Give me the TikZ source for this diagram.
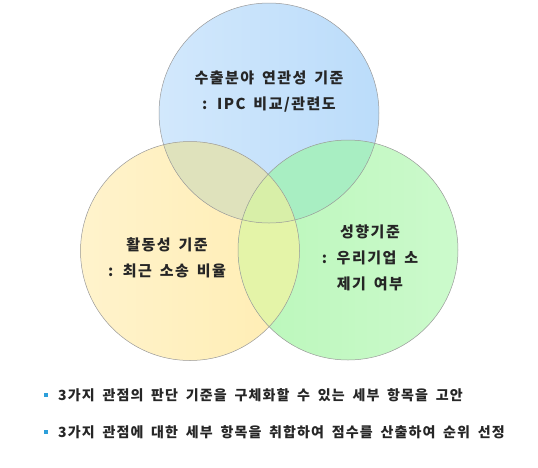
\documentclass[tikz,border=0pt]{standalone}
\usepackage{fontspec}
\setmainfont{Noto Sans CJK KR}
\newfontfamily\lblfont[LetterSpace=10,WordSpace=1.6]{Noto Sans CJK KR}
\newfontfamily\bulfont[LetterSpace=8,WordSpace=1.8]{Noto Sans CJK KR}
\begin{document}
\begin{tikzpicture}[x=1pt,y=-1pt,
  outl/.style={draw=black!40, line width=0.5pt},
  lbl/.style={align=center, font=\lblfont\fontsize{15}{26}\selectfont\bfseries, text=black!85, inner sep=0pt},
  bul/.style={anchor=west, font=\bulfont\fontsize{14}{15}\selectfont\bfseries, text=black!85, inner sep=0pt},
  sq/.style={minimum size=4.5pt, inner sep=0pt}]
\useasboundingbox (0,0) rectangle (538,467);
\definecolor{cblue}{HTML}{BBDCFA}
\definecolor{cblueL}{HTML}{D2E8FC}
\definecolor{cyel}{HTML}{FFEDB2}
\definecolor{cyelL}{HTML}{FFF3CC}
\definecolor{cgrn}{HTML}{BAF7BA}
\definecolor{cgrnL}{HTML}{CCFACC}
\definecolor{cab}{HTML}{DFE2BC}
\definecolor{cac}{HTML}{A8EEC2}
\definecolor{cbc}{HTML}{E4F4A8}
\definecolor{cabc}{HTML}{D8EFA8}
\definecolor{bsq}{HTML}{2C9FDA}
\def\ctop{(269,113) circle (110)}
\def\cleft{(190,251) circle (109.5)}
\def\cright{(348,250) circle (110)}
% base fills
\shade[left color=cblueL, right color=cblue] \ctop;
\shade[left color=cyelL, right color=cyel] \cleft;
\shade[left color=cgrn, right color=cgrnL] \cright;
% pairwise overlaps
\begin{scope}\clip \ctop; \fill[cab] \cleft; \end{scope}
\begin{scope}\clip \ctop; \fill[cac] \cright; \end{scope}
\begin{scope}\clip \cleft; \fill[cbc] \cright; \end{scope}
\begin{scope}\clip \ctop; \clip \cleft; \fill[cabc] \cright; \end{scope}
% outlines
\draw[outl] \ctop;
\draw[outl] \cleft;
\draw[outl] \cright;
\node[lbl] (top) at (269,92) {수출분야 연관성 기준\\: IPC 비교/관련도};
\node[lbl] (left) at (167,258) {활동성 기준\\: 최근 소송 비율};
\node[lbl] (right) at (370,258) {성향기준\\: 우리기업 소\\제기 여부};
\node[sq, fill=bsq] (b1) at (46,395) {};
\node[sq, fill=bsq] (b2) at (46,432) {};
\node[bul] (t1) at (58,395) {3가지 관점의 판단 기준을 구체화할 수 있는 세부 항목을 고안};
\node[bul] (t2) at (58,432) {3가지 관점에 대한 세부 항목을 취합하여 점수를 산출하여 순위 선정};
\end{tikzpicture}
\end{document}
